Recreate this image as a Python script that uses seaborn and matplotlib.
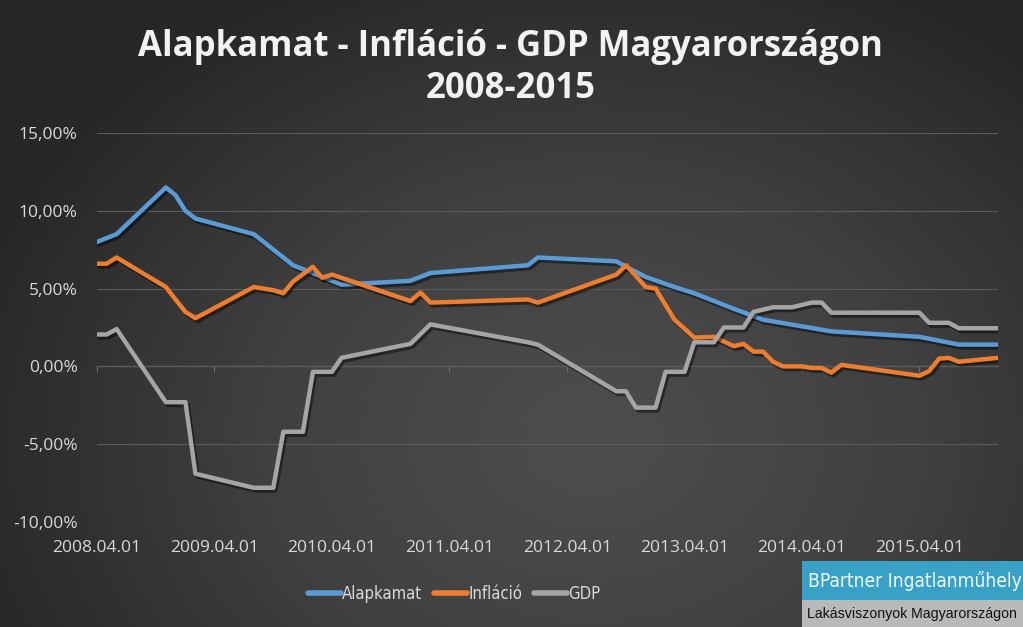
import numpy as np
import pandas as pd
import matplotlib
matplotlib.use("Agg")
import matplotlib.pyplot as plt
import matplotlib.patheffects as pe
import matplotlib.dates as mdates
from matplotlib.colors import LinearSegmentedColormap
from matplotlib.patches import Rectangle
import seaborn as sns

# --- adatok ---
alapkamat_dates = ['2008-04', '2008-06', '2008-11', '2008-12', '2009-01', '2009-02', '2009-08',
                   '2009-09', '2009-10', '2009-11', '2009-12', '2010-02', '2010-05', '2010-12',
                   '2011-02', '2011-12', '2012-01', '2012-09', '2012-10', '2012-12', '2013-03',
                   '2013-05', '2013-09', '2013-12', '2014-07', '2015-04', '2015-08', '2015-12']
alapkamat_values = [8.0, 8.5, 11.5, 11.0, 10.0, 9.5, 8.5,
                    8.0, 7.5, 7.0, 6.5, 6.0, 5.25, 5.5,
                    6.0, 6.5, 7.0, 6.75, 6.4, 5.75, 5.1,
                    4.7, 3.7, 3.0, 2.25, 1.9, 1.4, 1.4]

inflacio_dates = ['2008-04', '2008-05', '2008-06', '2008-11', '2008-12', '2009-01', '2009-02',
                  '2009-08', '2009-10', '2009-11', '2009-12', '2010-02', '2010-03', '2010-04',
                  '2010-12', '2011-01', '2011-02', '2011-12', '2012-01', '2012-09', '2012-10',
                  '2012-11', '2012-12', '2013-01', '2013-03', '2013-05', '2013-07', '2013-09',
                  '2013-10', '2013-11', '2013-12', '2014-01', '2014-02', '2014-04', '2014-05',
                  '2014-06', '2014-07', '2014-08', '2015-04', '2015-05', '2015-06', '2015-07',
                  '2015-08', '2015-12']
inflacio_values = [6.6, 6.6, 7.0, 5.1, 4.3, 3.5, 3.1,
                   5.1, 4.9, 4.7, 5.45, 6.4, 5.7, 5.9,
                   4.2, 4.75, 4.1, 4.3, 4.1, 5.9, 6.5,
                   5.8, 5.1, 5.0, 3.0, 1.85, 1.9, 1.3,
                   1.45, 0.95, 0.95, 0.3, 0.0, 0.0, -0.1,
                   -0.1, -0.4, 0.1, -0.6, -0.3, 0.5, 0.55,
                   0.3, 0.55]

gdp_dates = ['2008-04', '2008-05', '2008-06', '2008-11', '2009-01', '2009-02', '2009-08',
             '2009-10', '2009-11', '2010-01', '2010-02', '2010-04', '2010-05', '2010-12',
             '2011-02', '2011-12', '2012-01', '2012-09', '2012-10', '2012-11', '2013-01',
             '2013-02', '2013-04', '2013-05', '2013-07', '2013-08', '2013-10', '2013-11',
             '2014-01', '2014-03', '2014-05', '2014-06', '2014-07', '2015-04', '2015-05',
             '2015-07', '2015-08', '2015-12']
gdp_values = [2.05, 2.05, 2.4, -2.3, -2.3, -6.9, -7.8,
              -7.8, -4.2, -4.2, -0.35, -0.35, 0.55, 1.45,
              2.7, 1.55, 1.4, -1.6, -1.6, -2.65, -2.65,
              -0.35, -0.35, 1.55, 1.55, 2.5, 2.5, 3.5,
              3.8, 3.8, 4.1, 4.1, 3.45, 3.45, 2.8,
              2.8, 2.45, 2.45]

series_names = ['Alapkamat', 'Infláció', 'GDP']
series_colors = ['#5B9BD5', '#ED7D31', '#A5A5A5']
tick_dates = ['2008-04-01', '2009-04-01', '2010-04-01', '2011-04-01',
              '2012-04-01', '2013-04-01', '2014-04-01', '2015-04-01']
y_ticks = [-10, -5, 0, 5, 10, 15]

frames = []
for name, d, v in zip(series_names,
                      [alapkamat_dates, inflacio_dates, gdp_dates],
                      [alapkamat_values, inflacio_values, gdp_values]):
    frames.append(pd.DataFrame({'datum': pd.to_datetime(d), 'ertek': v, 'sorozat': name}))
df = pd.concat(frames, ignore_index=True)

sns.set_theme(style='dark')
plt.rcParams['font.family'] = ['Open Sans', 'DejaVu Sans']

fig = plt.figure(figsize=(10.23, 6.27), dpi=100)

# háttér színátmenet
bg = fig.add_axes([0, 0, 1, 1], zorder=-10)
yy, xx = np.mgrid[0:1:300j, 0:1:500j]
r = np.sqrt(((xx - 0.58) / 0.75) ** 2 + ((yy - 0.30) / 0.95) ** 2)
cmap_bg = LinearSegmentedColormap.from_list('bg', ['#4e4e4e', '#404040', '#272727'])
bg.imshow(r, cmap=cmap_bg, extent=[0, 1, 0, 1], origin='lower', aspect='auto', vmin=0, vmax=0.85)
bg.axis('off')

ax = fig.add_axes([97 / 1023, 1 - 522 / 627, (998 - 97) / 1023, (522 - 133) / 627])
ax.set_facecolor('none')

sns.lineplot(data=df, x='datum', y='ertek', hue='sorozat', hue_order=series_names,
             palette=dict(zip(series_names, series_colors)), estimator=None,
             linewidth=3.2, ax=ax, legend=False)

for line in ax.lines:
    line.set_solid_joinstyle('round')
    line.set_path_effects([pe.SimpleLineShadow(offset=(1.5, -2), shadow_color='black', alpha=0.45),
                           pe.Normal()])

ax.set_xlim(pd.Timestamp('2008-04-01'), pd.Timestamp('2015-12-01'))
ax.set_ylim(-10, 15)
ax.set_yticks(y_ticks)
ax.set_yticklabels([f'{t:.2f}%'.replace('.', ',') for t in y_ticks])
ax.set_xticks(pd.to_datetime(tick_dates))
ax.xaxis.set_major_formatter(mdates.DateFormatter('%Y.%m.%d'))
ax.set_xlabel('')
ax.set_ylabel('')

for s in ax.spines.values():
    s.set_visible(False)
ax.grid(axis='y', color='#5c5c5c', linewidth=0.8)
ax.grid(axis='x', visible=False)
ax.tick_params(axis='both', length=0, colors='#d9d9d9', labelsize=12.5)
ax.tick_params(axis='y', pad=14)
ax.tick_params(axis='x', pad=13)

# vízszintes tengely a 0 szintjén
secax = ax.secondary_xaxis(10 / 25)
secax.set_xticks(pd.to_datetime(tick_dates))
secax.tick_params(axis='x', length=4, width=0.8, color='#6e6e6e', labelbottom=False,
                  labeltop=False)
secax.spines['bottom'].set_color('#6e6e6e')
secax.spines['bottom'].set_linewidth(0.9)
for k in ['top', 'left', 'right']:
    secax.spines[k].set_visible(False)

# cím
fig.text(0.499, 1 - 47 / 627, 'Alapkamat - Infláció - GDP Magyarországon', ha='center', va='center',
         fontsize=25, fontweight='bold', color='#f2f2f2')
fig.text(0.499, 1 - 89 / 627, '2008-2015', ha='center', va='center',
         fontsize=25, fontweight='bold', color='#f2f2f2')

# jelmagyarázat
handles = [plt.Line2D([], [], color=c, linewidth=4, solid_capstyle='round') for c in series_colors]
leg = fig.legend(handles, series_names, loc='center', bbox_to_anchor=(454 / 1023, 1 - 594 / 627),
                 ncol=3, frameon=False, handlelength=2.0, handletextpad=0.05, columnspacing=0.7,
                 prop={'family': 'DejaVu Sans', 'stretch': 'condensed', 'size': 12})
for t in leg.get_texts():
    t.set_color('#d9d9d9')

# BPartner felirat
fig.patches.append(Rectangle((802 / 1023, 0), 221 / 1023, 27 / 627, transform=fig.transFigure,
                             facecolor='#b9b9b9', edgecolor='none', zorder=5))
fig.patches.append(Rectangle((802 / 1023, 27 / 627), 221 / 1023, 39 / 627, transform=fig.transFigure,
                             facecolor='#3aa1c6', edgecolor='none', zorder=5))
fig.text(808 / 1023, 1 - 581 / 627, 'BPartner Ingatlanműhely', ha='left', va='center', fontsize=13.8,
         color='#eefaff', family='DejaVu Sans', stretch='condensed', zorder=6)
fig.text(807 / 1023, 1 - 614 / 627, 'Lakásviszonyok Magyarországon', ha='left', va='center',
         fontsize=10.2, color='#111111', family=['Liberation Sans', 'DejaVu Sans'], zorder=6)

fig.savefig('out.png', dpi=100)
